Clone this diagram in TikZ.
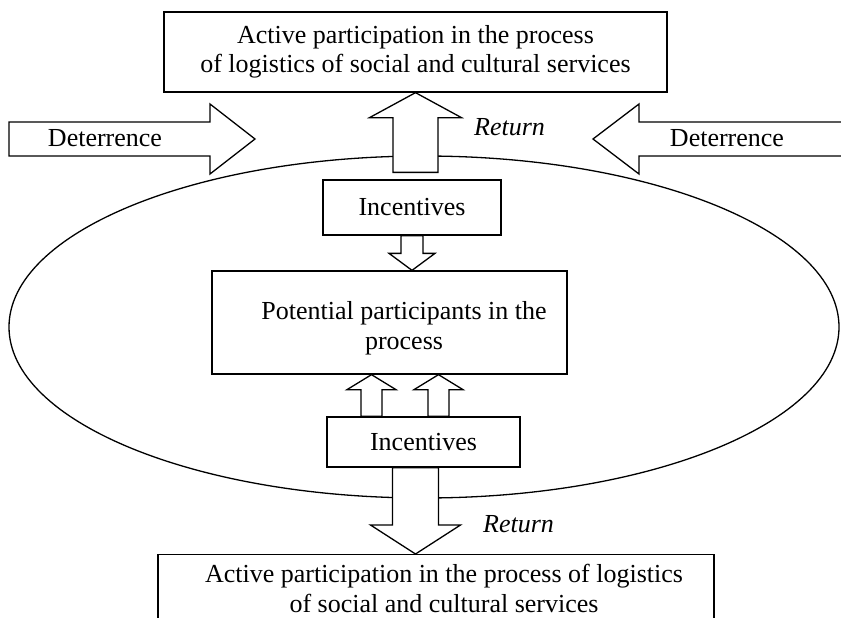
\documentclass[tikz,border=0pt]{standalone}
\usepackage{fontspec}
\setmainfont{Liberation Serif}
\usetikzlibrary{calc,shapes.geometric,positioning}

\tikzset{
  box/.style={draw, line width=1.3pt, fill=white, inner sep=0pt, align=center,
    font=\fontsize{26}{29}\selectfont},
  txt/.style={inner sep=0pt, align=center, font=\fontsize{26}{30}\selectfont},
  ret/.style={inner sep=0pt, font=\fontsize{26}{30}\selectfont\itshape},
  blk/.style={draw, line width=1.3pt, fill=white, line join=miter},
}

% block arrow: tail, tip, shaft half width, head half width, head length
\newcommand{\blockarrow}[5]{%
  \path[blk] let \p1=(#1), \p2=(#2), \n1={veclen(\x2-\x1,\y2-\y1)},
    \p3=({(\x2-\x1)/\n1},{(\y2-\y1)/\n1}) in
    ({\x1-#3*(\y3)},{\y1+#3*(\x3)})
    -- ({\x2-#5*(\x3)-#3*(\y3)},{\y2-#5*(\y3)+#3*(\x3)})
    -- ({\x2-#5*(\x3)-#4*(\y3)},{\y2-#5*(\y3)+#4*(\x3)})
    -- (\p2)
    -- ({\x2-#5*(\x3)+#4*(\y3)},{\y2-#5*(\y3)-#4*(\x3)})
    -- ({\x2-#5*(\x3)+#3*(\y3)},{\y2-#5*(\y3)-#3*(\x3)})
    -- ({\x1+#3*(\y3)},{\y1-#3*(\x3)}) -- cycle;}

\begin{document}
\begin{tikzpicture}[x=1pt, y=-1pt]
\useasboundingbox (0,0) rectangle (841,618);

% the ring of potential participants
\node[draw, ellipse, line width=1.3pt, inner sep=0pt, minimum width=830pt,
  minimum height=342pt] (ring) at (424,327) {};

% boxes
\node[box, minimum width=503pt, minimum height=80pt] (top) at (415.5,52)
  {Active participation in the process\\of logistics of social and cultural services};
\node[box, minimum width=178pt, minimum height=55pt] (inc1) at (412,207.5) {Incentives};
\node[box, minimum width=355pt, minimum height=103pt] (pot) at (389.5,322.5) {};
\node[txt] (pottxt) at (404,328) {Potential participants in the\\process};
\node[box, minimum width=193pt, minimum height=50pt] (inc2) at (423.5,442) {Incentives};
\node[box, minimum width=556pt, minimum height=90pt, anchor=north] (bot) at (436,554) {};
\node[txt] (bottxt) at (444,588)
  {Active participation in the process of logistics\\of social and cultural services};

% deterrence arrows
\coordinate (dl0) at (9,139);
\coordinate (dl1) at (255,139);
\coordinate (dr0) at (850,139);
\coordinate (dr1) at (593,139);
\blockarrow{dl0}{dl1}{17}{35}{45}
\blockarrow{dr0}{dr1}{17}{35}{46}
\node[txt] (detl) at (105,138) {Deterrence};
\node[txt] (detr) at (727,138) {Deterrence};

% return and incentive arrows
\coordinate (rt) at ([yshift=7pt]top.south |- inc1.north);
\blockarrow{rt}{top.south}{22.5}{46}{25}
\blockarrow{inc1.south}{inc1.south |- pot.north}{11}{23}{17}
\coordinate (u1) at ([xshift=-52pt]inc2.north);
\coordinate (u2) at ([xshift=15pt]inc2.north);
\blockarrow{u1}{u1 |- pot.south}{10.5}{24.5}{15}
\blockarrow{u2}{u2 |- pot.south}{10.5}{24.5}{15}
\coordinate (r2) at ([xshift=-8pt]inc2.south);
\blockarrow{r2}{r2 |- bot.north}{23}{45}{29}

\node[ret, anchor=west] (ret1) at (474,127) {Return};
\node[ret, anchor=west] (ret2) at (483,524) {Return};
\end{tikzpicture}
\end{document}
